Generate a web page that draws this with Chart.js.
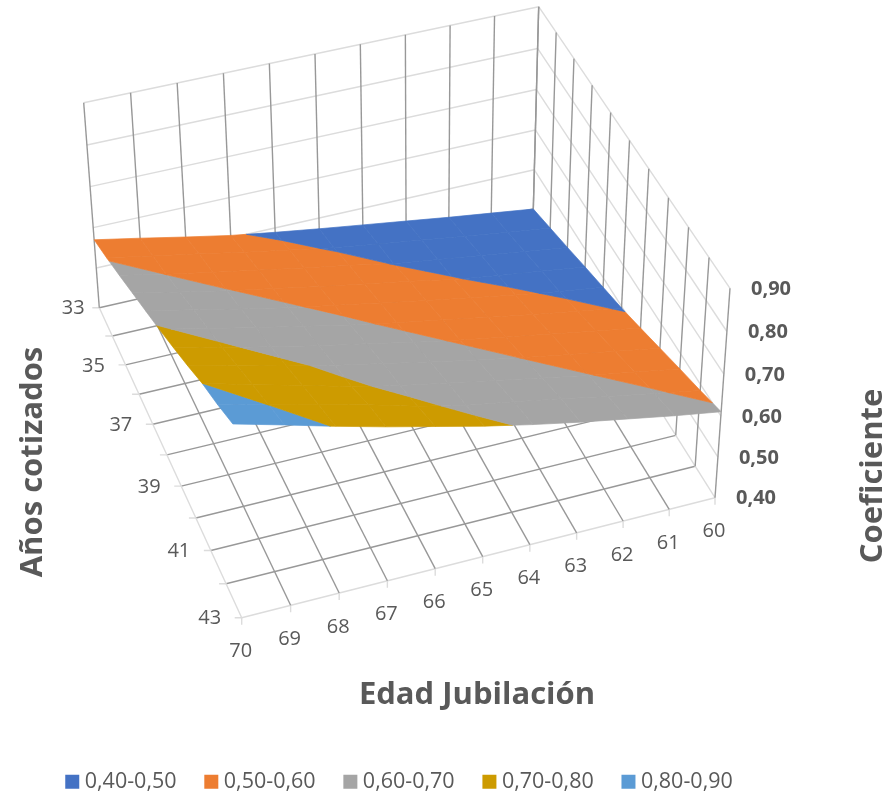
<!DOCTYPE html>
<html>
<head>
<meta charset="utf-8">
<script src="https://cdn.jsdelivr.net/npm/chart.js@4"></script>
<style>
  html, body { margin: 0; padding: 0; background: #fff; }
  canvas { display: block; }
</style>
</head>
<body>
<canvas id="myChart" width="890" height="792"></canvas>
<script>
// datos
const edades = [60, 61, 62, 63, 64, 65, 66, 67, 68, 69, 70];
const anios = [33, 34, 35, 36, 37, 38, 39, 40, 41, 42, 43];
const aniosTicks = [33, 35, 37, 39, 41, 43];
const coefTicks = ["0,40", "0,50", "0,60", "0,70", "0,80", "0,90"];
const coefNiveles = [0.4, 0.5, 0.6, 0.7, 0.8, 0.9];
const bandas = ["0,40-0,50", "0,50-0,60", "0,60-0,70", "0,70-0,80", "0,80-0,90"];
const bandaColores = ["#4472C4", "#ED7D31", "#A5A5A5", "#CD9B00", "#5B9BD5"];

// una fila por anios cotizados, una columna por edad
const c33 = [.400, .414, .428, .443, .458, .473, .489, .506, .527, .549, .570];
const c34 = [.419, .433, .448, .463, .478, .494, .513, .533, .554, .574, .595];
const c35 = [.438, .453, .468, .483, .498, .519, .538, .558, .578, .599, .622];
const c36 = [.458, .473, .487, .503, .524, .543, .562, .583, .603, .626, .650];
const c37 = [.477, .492, .509, .528, .547, .567, .587, .607, .630, .654, .678];
const c38 = [.496, .514, .532, .551, .571, .590, .611, .634, .657, .681, .706];
const c39 = [.518, .537, .556, .575, .594, .615, .638, .660, .684, .709, .736];
const c40 = [.541, .560, .579, .598, .619, .641, .664, .687, .712, .739, .767];
const c41 = [.564, .583, .602, .623, .644, .665, .686, .710, .741, .769, .800];
const c42 = [.586, .606, .626, .648, .668, .687, .712, .743, .771, .799, .827];
const c43 = [.610, .628, .648, .668, .690, .714, .741, .768, .797, .828, .858];
const superficie = [c33, c34, c35, c36, c37, c38, c39, c40, c41, c42, c43];

// camara: esquinas de la caja 3D (fondo, izquierda, frente, derecha)
const suelo = homografia([[533.3, 209], [99.3, 307.7], [241.7, 617.7], [715, 497.7]]);
const techo = homografia([[538.7, 6.7], [83.7, 102.7], [232, 405.5], [730, 288.3]]);

function homografia(q) {
    const [p0, p1, p2, p3] = q;
    const dx1 = p1[0] - p2[0], dx2 = p3[0] - p2[0], sx = p0[0] - p1[0] + p2[0] - p3[0];
    const dy1 = p1[1] - p2[1], dy2 = p3[1] - p2[1], sy = p0[1] - p1[1] + p2[1] - p3[1];
    const den = dx1 * dy2 - dx2 * dy1;
    const g = (sx * dy2 - dx2 * sy) / den;
    const h = (dx1 * sy - sx * dy1) / den;
    const a = p1[0] - p0[0] + g * p1[0], b = p3[0] - p0[0] + h * p3[0];
    const d = p1[1] - p0[1] + g * p1[1], e = p3[1] - p0[1] + h * p3[1];
    return (u, v) => {
        const w = g * u + h * v + 1;
        return [(a * u + b * v + p0[0]) / w, (d * u + e * v + p0[1]) / w];
    };
}

function proyectar(edad, anio, coef) {
    const u = (edad - 60) / 10, v = (anio - 33) / 10;
    const t = (coef - 0.4) / 0.5;
    const k = t / (t + (1 - t) * 1.04);
    const f = suelo(u, v), s = techo(u, v);
    return { x: f[0] + (s[0] - f[0]) * k, y: f[1] + (s[1] - f[1]) * k };
}

// recorta un poligono [edad, anio, coef] por un nivel de coeficiente
function recortar(poly, nivel, arriba) {
    const dentro = p => arriba ? p[2] >= nivel : p[2] <= nivel;
    const out = [];
    poly.forEach((p, i) => {
        const n = poly[(i + 1) % poly.length];
        if (dentro(p)) out.push(p);
        if (dentro(p) !== dentro(n)) {
            const t = (nivel - p[2]) / (n[2] - p[2]);
            out.push([p[0] + (n[0] - p[0]) * t, p[1] + (n[1] - p[1]) * t, nivel]);
        }
    });
    return out;
}

const datasets = [];

// superficie: arriba del todo, por eso va primero
for (let j = 0; j < anios.length - 1; j++) {
    for (let i = 0; i < edades.length - 1; i++) {
        const celda = [
            [edades[i], anios[j], superficie[j][i]],
            [edades[i + 1], anios[j], superficie[j][i + 1]],
            [edades[i + 1], anios[j + 1], superficie[j + 1][i + 1]],
            [edades[i], anios[j + 1], superficie[j + 1][i]]
        ];
        bandas.forEach((b, k) => {
            let poly = recortar(celda, coefNiveles[k], true);
            if (poly.length) poly = recortar(poly, coefNiveles[k + 1], false);
            if (poly.length < 3) return;
            const pts = poly.map(p => proyectar(p[0], p[1], p[2]));
            pts.push(pts[0]);
            datasets.push({
                label: b,
                data: pts,
                showLine: true,
                fill: "shape",
                backgroundColor: bandaColores[k],
                borderColor: bandaColores[k],
                borderWidth: 0.7,
                pointRadius: 0,
                order: 1
            });
        });
    }
}

function linea(a, b, color) {
    datasets.push({
        data: [a, b],
        showLine: true,
        fill: false,
        borderColor: color,
        borderWidth: 1.4,
        pointRadius: 0,
        order: 2
    });
}

const gris = "#989898", claro = "#dcdcdc";

// paredes
edades.forEach(e => linea(proyectar(e, 33, 0.4), proyectar(e, 33, 0.9), gris));
anios.forEach(a => linea(proyectar(60, a, 0.4), proyectar(60, a, 0.9), gris));
coefNiveles.slice(1).forEach(c => {
    linea(proyectar(70, 33, c), proyectar(60, 33, c), claro);
    linea(proyectar(60, 33, c), proyectar(60, 43, c), claro);
});

// suelo
edades.forEach(e => {
    linea(proyectar(e, 33, 0.4), proyectar(e, 43, 0.4), e === 60 || e === 70 ? claro : gris);
    const p = proyectar(e, 43, 0.4);
    linea(p, { x: p.x, y: p.y + 7 }, claro);
});
anios.forEach(a => {
    linea(proyectar(60, a, 0.4), proyectar(70, a, 0.4), a === 43 ? claro : gris);
    const p = proyectar(70, a, 0.4);
    linea(p, { x: p.x - 7, y: p.y }, claro);
});

// la escala y va 1:1 con los pixeles, la leyenda se coloca a mano
const encaje = {
    id: "encaje",
    afterLayout(chart) {
        const y = chart.scales.y;
        y.max = chart.chartArea.bottom - chart.chartArea.top;
        y.configure();
        chart.legend.left = 37.5;
        chart.legend.top = 738;
    }
};

// textos de los ejes y titulos
const textos3d = {
    id: "textos3d",
    afterDraw(chart) {
        const { ctx, scales: { x, y } } = chart;
        const txt = (s, px, py, font, rot) => {
            ctx.save();
            ctx.font = font;
            ctx.fillStyle = "#595959";
            ctx.textAlign = "center";
            ctx.textBaseline = "middle";
            ctx.translate(x.getPixelForValue(px), y.getPixelForValue(py));
            if (rot) ctx.rotate(rot);
            ctx.fillText(s, 0, 0);
            ctx.restore();
        };
        const fTick = "20px 'Open Sans'";
        const fCoef = "bold 20px 'Open Sans'";
        const fTitulo = "bold 31px 'Open Sans'";
        edades.forEach(e => {
            const p = proyectar(e, 43, 0.4);
            txt(String(e), p.x - 1, p.y + 34, fTick);
        });
        aniosTicks.forEach(a => {
            const p = proyectar(70, a, 0.4);
            txt(String(a), p.x + (a === 33 ? -26 : -32), p.y + 1, fTick);
        });
        coefTicks.forEach((t, i) => {
            const p = proyectar(60, 43, coefNiveles[i]);
            txt(t, p.x + 41, p.y + 1, fCoef);
        });
        txt("Edad Jubilación", 477, 695, fTitulo);
        txt("Años cotizados", 33, 462, fTitulo, -Math.PI / 2);
        txt("Coeficiente", 873, 476, fTitulo, -Math.PI / 2);
    }
};

new Chart(document.getElementById("myChart").getContext("2d"), {
    type: "scatter",
    data: { datasets: datasets },
    plugins: [encaje, textos3d],
    options: {
        responsive: false,
        animation: false,
        scales: {
            x: { type: "linear", min: 0, max: 890, display: false },
            y: { type: "linear", min: 0, max: 740, reverse: true, display: false }
        },
        plugins: {
            tooltip: { enabled: false },
            legend: {
                position: "bottom",
                align: "start",
                labels: {
                    usePointStyle: true,
                    pointStyle: "rect",
                    boxWidth: 3.5,
                    boxHeight: 14,
                    padding: 33,
                    color: "#595959",
                    font: { family: "'Open Sans'", size: 21.5 },
                    generateLabels: () => bandas.map((b, i) => ({
                        text: b,
                        fillStyle: bandaColores[i],
                        strokeStyle: bandaColores[i],
                        lineWidth: 0,
                        pointStyle: "rect",
                        fontColor: "#595959",
                        datasetIndex: i
                    }))
                }
            }
        }
    }
});
</script>
</body>
</html>
